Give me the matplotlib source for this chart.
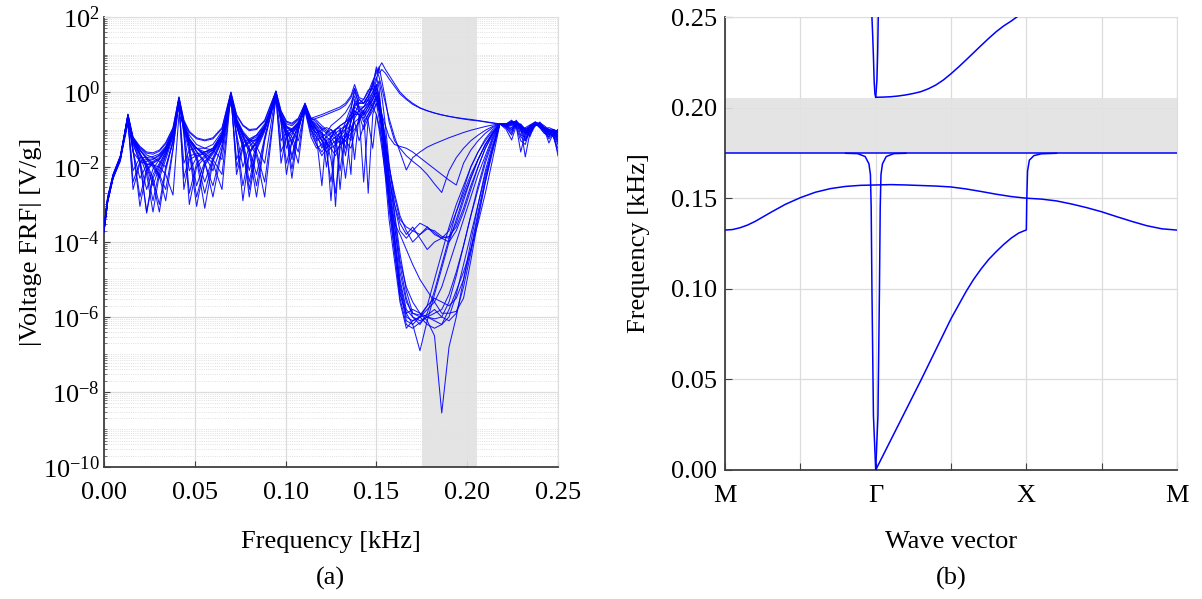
import matplotlib
matplotlib.use("Agg")
import matplotlib.pyplot as plt
import numpy as np
from matplotlib.ticker import FixedLocator, LogLocator, NullFormatter, FormatStrFormatter

plt.rcParams['font.family'] = ['Liberation Serif', 'DejaVu Serif']
plt.rcParams['mathtext.fontset'] = 'custom'
plt.rcParams['mathtext.rm'] = 'Liberation Serif'
plt.rcParams['mathtext.it'] = 'Liberation Serif:italic'
plt.rcParams['axes.unicode_minus'] = True

# ---------------- (a) voltage FRF data: log10 |FRF| ----------------
freq_khz = [
    0.0, 0.002, 0.005, 0.009, 0.0132,
    0.016, 0.0198, 0.0235, 0.027, 0.0305, 0.034, 0.038, 0.0413,
    0.044, 0.047, 0.051, 0.0555, 0.060, 0.065, 0.0699,
    0.073, 0.0765, 0.080, 0.084, 0.0885, 0.0947,
    0.0975, 0.1005, 0.1035, 0.107, 0.1107,
    0.114, 0.117, 0.120, 0.1225, 0.125, 0.1275, 0.130, 0.133, 0.136, 0.138, 0.1405,
    0.143, 0.1455, 0.148, 0.150, 0.1515, 0.153, 0.155, 0.157, 0.160, 0.163,
    0.1665, 0.170, 0.174, 0.178, 0.182, 0.186, 0.190, 0.194, 0.198, 0.202, 0.206, 0.210, 0.214, 0.218,
    0.2215, 0.2245, 0.227, 0.2295, 0.232, 0.2345, 0.2375, 0.240, 0.2425, 0.245, 0.2475, 0.250]

frf_exp_01 = [
    -3.7, -2.9, -2.27, -1.75, -0.59,
    -1.2, -1.45, -1.6, -1.62, -1.55, -1.35, -0.95, -0.13,
    -0.75, -1.05, -1.22, -1.28, -1.22, -0.95, 0.0,
    -0.6, -0.88, -1.0, -0.98, -0.75, 0.03,
    -0.5, -0.78, -0.83, -0.7, -0.3,
    -0.7, -0.65, -0.6, -0.55, -0.5, -0.45, -0.4, -0.3, -0.1, 0.2, -0.15,
    -0.2, 0.0, 0.3, 0.5, 0.65, 0.78, 0.6, 0.45, 0.22, 0.0,
    -0.17, -0.3, -0.42, -0.5, -0.56, -0.61, -0.65, -0.68, -0.71, -0.73, -0.76, -0.79, -0.82, -0.85,
    -0.9, -0.85, -0.8, -0.9, -1.0, -0.95, -0.85, -0.9, -1.0, -1.05, -1.0, -1.1]
frf_exp_02 = [
    -3.65, -2.85, -2.25, -1.8, -0.62,
    -1.5, -3.05, -2.1, -1.9, -1.8, -1.55, -1.1, -0.18,
    -1.0, -1.6, -3.05, -1.9, -1.6, -1.2, -0.05,
    -0.9, -1.4, -2.6, -1.5, -1.0, 0.0,
    -0.75, -1.2, -2.05, -1.0, -0.35,
    -0.9, -1.2, -2.5, -1.1, -0.9, -0.8, -0.7, -0.55, -0.3, 0.0, -0.3,
    -0.3, -0.1, 0.2, 0.6, 0.4, 0.1, -0.3, -0.7, -1.2, -1.6,
    -2.08, -1.75, -1.6, -1.47, -1.38, -1.3, -1.22, -1.15, -1.08, -1.02, -0.97, -0.92, -0.88, -0.85,
    -0.85, -0.75, -0.9, -1.6, -1.1, -0.9, -0.8, -0.95, -1.1, -1.0, -1.05, -1.3]
frf_exp_03 = [
    -3.7, -2.95, -2.3, -1.85, -0.7,
    -1.35, -1.9, -3.2, -2.2, -1.9, -1.6, -1.1, -0.25,
    -0.95, -1.4, -1.8, -3.1, -1.85, -1.3, -0.1,
    -0.8, -1.2, -1.6, -2.8, -1.3, -0.05,
    -0.8, -1.9, -1.3, -0.9, -0.3,
    -0.8, -0.9, -1.1, -1.4, -1.3, -3.05, -1.2, -0.8, -0.4, -0.1, -0.45,
    -0.5, -0.3, 0.0, 0.3, 0.67, 0.3, -0.2, -0.8, -1.3, -1.5,
    -1.7, -1.85, -2.0, -2.2, -2.45, -2.68, -2.1, -1.75, -1.5, -1.3, -1.15, -1.02, -0.92, -0.85,
    -0.95, -1.1, -0.75, -0.95, -1.73, -1.1, -0.85, -0.95, -1.0, -1.1, -1.2, -1.5]
frf_exp_04 = [
    -3.6, -2.8, -2.2, -1.7, -0.6,
    -1.3, -1.7, -2.2, -3.2, -2.2, -1.7, -1.15, -0.15,
    -1.1, -2.7, -1.9, -1.7, -1.55, -1.15, -0.02,
    -2.2, -1.5, -1.35, -1.25, -0.95, -0.1,
    -0.7, -1.0, -1.2, -1.6, -0.4,
    -0.75, -1.0, -1.3, -1.6, -2.4, -1.4, -1.0, -0.9, -2.2, -0.2, -0.5,
    -0.4, -0.2, 0.27, 0.0, -0.3, -0.6, -0.9, -1.2, -1.4, -1.45,
    -1.5, -1.6, -1.75, -1.9, -2.05, -2.2, -2.35, -2.48, -1.9, -1.55, -1.3, -1.1, -0.95, -0.85,
    -1.0, -1.28, -0.9, -0.85, -1.0, -1.2, -0.82, -0.85, -1.0, -1.36, -1.1, -1.0]
frf_exp_05 = [
    -3.65, -2.9, -2.25, -1.78, -0.75,
    -2.6, -1.9, -1.85, -1.8, -1.7, -1.5, -1.05, -0.3,
    -0.9, -1.3, -1.6, -1.9, -2.5, -1.5, -0.2,
    -0.75, -1.1, -1.3, -1.6, -2.4, -0.15,
    -0.6, -0.95, -1.0, -0.85, -0.45,
    -1.0, -1.3, -1.2, -1.1, -1.0, -1.2, -2.1, -1.0, -0.6, -0.3, -0.4,
    -0.6, -0.4, -0.2, 0.1, -0.2, -0.6, -1.2, -2.0, -2.8, -3.4,
    -3.6, -3.7, -3.8, -3.65, -3.7, -3.85, -3.9, -3.5, -2.9, -2.3, -1.8, -1.4, -1.1, -0.85,
    -0.9, -0.8, -0.95, -1.3, -1.4, -1.0, -0.9, -0.85, -0.95, -1.0, -1.1, -1.7]
frf_exp_06 = [
    -3.7, -2.9, -2.28, -1.76, -0.65,
    -1.3, -1.65, -1.9, -2.3, -3.0, -2.0, -1.3, -0.2,
    -0.85, -1.25, -1.5, -1.65, -1.8, -2.2, -0.05,
    -1.2, -2.5, -1.6, -1.35, -1.0, 0.02,
    -0.7, -1.1, -1.8, -1.0, -0.33,
    -0.85, -1.1, -1.5, -1.3, -1.2, -1.1, -1.0, -1.5, -0.8, -0.5, -0.6,
    -0.5, -2.7, -0.6, -0.3, -0.5, -0.9, -1.6, -2.3, -3.0, -3.5,
    -3.8, -3.6, -3.9, -4.2, -4.0, -3.9, -3.85, -3.6, -3.1, -2.5, -2.0, -1.5, -1.15, -0.85,
    -0.85, -0.78, -0.85, -1.0, -1.1, -1.0, -0.8, -0.88, -1.05, -1.2, -1.0, -1.05]
frf_exp_07 = [
    -3.6, -2.85, -2.22, -1.72, -0.8,
    -1.25, -1.55, -1.75, -1.9, -2.2, -2.6, -1.5, -0.35,
    -2.3, -1.7, -1.65, -1.6, -1.5, -1.1, -0.25,
    -0.85, -1.3, -2.1, -1.4, -0.95, -0.2,
    -1.6, -1.2, -1.1, -0.9, -0.5,
    -1.2, -1.5, -1.4, -1.3, -1.8, -2.7, -1.5, -1.2, -1.0, -0.7, -0.5,
    -0.4, -0.2, 0.0, 0.2, -0.1, -0.6, -1.5, -2.5, -3.8, -5.0,
    -5.8, -6.0, -6.1, -6.0, -5.9, -5.8, -5.4, -4.8, -4.1, -3.3, -2.6, -1.9, -1.3, -0.85,
    -0.9, -0.95, -0.8, -0.9, -1.05, -0.95, -0.9, -0.8, -0.95, -1.05, -1.15, -1.4]
frf_exp_08 = [
    -3.7, -2.92, -2.3, -1.8, -0.68,
    -1.6, -1.85, -1.92, -1.95, -2.0, -2.2, -2.75, -0.6,
    -0.9, -1.3, -1.5, -1.6, -1.55, -1.2, -0.15,
    -0.8, -1.1, -1.3, -1.3, -1.0, -0.1,
    -0.65, -0.95, -1.05, -0.9, -0.38,
    -0.7, -0.8, -1.0, -2.0, -1.2, -1.0, -0.9, -0.8, -0.6, -0.4, -0.2,
    -0.3, -0.1, 0.1, 0.4, 0.1, -0.8, -1.8, -2.8, -4.0, -5.3,
    -6.1, -6.2, -6.0, -5.8, -5.6, -5.2, -4.6, -4.0, -3.4, -2.8, -2.2, -1.7, -1.2, -0.85,
    -0.88, -0.82, -0.78, -1.15, -1.2, -0.9, -0.85, -0.9, -1.0, -0.95, -1.0, -1.2]
frf_exp_09 = [
    -3.65, -2.88, -2.26, -1.77, -0.72,
    -1.4, -1.85, -2.6, -2.05, -1.8, -1.55, -1.1, -0.28,
    -0.95, -1.35, -1.7, -2.4, -1.75, -1.25, -0.12,
    -1.1, -2.0, -1.45, -1.25, -0.95, -0.08,
    -0.75, -1.5, -1.15, -0.85, -0.42,
    -0.95, -1.1, -1.3, -1.5, -1.4, -1.3, -1.2, -2.3, -1.1, -0.8, -0.7,
    -0.6, -0.5, -0.3, -0.1, -0.4, -1.0, -2.0, -3.0, -4.2, -5.5,
    -6.2, -6.3, -6.15, -6.0, -6.1, -6.2, -6.0, -5.4, -4.6, -3.8, -3.0, -2.2, -1.5, -0.85,
    -0.92, -1.0, -0.85, -0.95, -1.25, -1.0, -0.82, -0.95, -1.1, -1.2, -1.0, -1.1]
frf_exp_10 = [
    -3.7, -2.9, -2.27, -1.75, -0.63,
    -1.6, -2.3, -1.95, -1.85, -1.75, -1.5, -1.05, -0.2,
    -0.95, -1.45, -2.5, -1.85, -1.6, -1.2, -0.08,
    -0.75, -1.15, -1.5, -2.2, -1.2, -0.03,
    -0.65, -1.0, -1.4, -0.95, -0.36,
    -0.8, -1.0, -1.1, -1.2, -1.3, -1.2, -1.1, -1.0, -0.9, -1.8, -0.6,
    -0.7, -0.5, -0.2, 0.0, -0.3, -0.7, -1.4, -2.2, -3.3, -4.5,
    -5.2, -5.6, -5.9, -6.1, -6.5, -8.56, -6.8, -6.0, -5.0, -4.0, -3.0, -2.1, -1.4, -0.85,
    -0.87, -0.8, -0.9, -1.05, -0.95, -0.88, -0.8, -0.85, -0.95, -1.0, -1.05, -1.25]
frf_exp_11 = [
    -3.62, -2.82, -2.2, -1.72, -0.78,
    -1.3, -1.65, -2.0, -2.5, -2.0, -1.65, -1.15, -0.32,
    -0.85, -1.25, -1.5, -1.7, -2.1, -1.4, -0.18,
    -1.8, -1.35, -1.25, -1.15, -0.9, -0.12,
    -0.6, -0.9, -1.05, -1.3, -0.48,
    -1.1, -1.4, -1.7, -1.5, -1.3, -1.6, -1.4, -1.3, -1.1, -1.0, -0.8,
    -0.5, -0.8, -1.5, -0.6, -0.9, -1.3, -2.0, -2.9, -4.0, -5.1,
    -5.9, -6.2, -6.9, -6.1, -5.4, -4.7, -4.0, -3.4, -2.8, -2.3, -1.8, -1.4, -1.1, -0.85,
    -0.9, -0.85, -0.8, -0.95, -1.1, -0.98, -0.85, -0.88, -0.98, -1.1, -1.15, -1.0]
frf_exp_12 = [
    -3.68, -2.9, -2.27, -1.76, -0.66,
    -1.25, -1.55, -1.8, -2.0, -2.3, -1.8, -1.2, -0.22,
    -1.0, -2.1, -1.75, -1.6, -1.5, -1.1, -0.06,
    -0.7, -1.05, -1.25, -1.45, -1.9, -0.02,
    -1.3, -1.05, -1.0, -0.85, -0.34,
    -0.9, -1.0, -1.2, -1.3, -2.9, -1.3, -1.1, -0.9, -0.7, -0.6, -0.5,
    -0.8, -0.6, -0.4, -0.2, -0.5, -1.1, -1.9, -2.6, -3.6, -4.6,
    -5.5, -6.0, -6.2, -5.9, -5.3, -4.6, -3.9, -3.2, -2.6, -2.0, -1.6, -1.25, -1.0, -0.85,
    -0.95, -1.15, -0.85, -0.9, -1.0, -1.15, -0.9, -0.82, -0.9, -1.0, -1.1, -1.35]
frf_exp_13 = [
    -3.75, -2.95, -2.3, -1.8, -0.85,
    -2.1, -1.75, -1.75, -1.72, -1.65, -1.45, -1.0, -0.4,
    -1.9, -1.55, -1.5, -1.5, -1.4, -1.05, -0.3,
    -0.8, -1.2, -1.6, -1.3, -0.9, -0.25,
    -0.55, -0.85, -0.9, -0.75, -0.55,
    -0.7, -0.75, -0.9, -1.0, -1.1, -1.0, -0.95, -1.7, -0.7, -0.3, -0.3,
    -0.3, -0.2, -0.4, -0.6, -1.0, -1.5, -2.2, -2.9, -3.5, -3.8,
    -4.2, -4.6, -5.0, -5.3, -5.6, -5.9, -5.9, -5.85, -5.5, -4.5, -3.4, -2.4, -1.5, -0.85,
    -0.88, -0.82, -0.8, -0.92, -1.0, -0.92, -0.84, -0.86, -0.95, -1.02, -1.05, -1.15]
frf_exp_14 = [
    -3.66, -2.87, -2.24, -1.74, -0.7,
    -1.22, -1.5, -1.68, -1.75, -1.85, -2.0, -1.35, -0.26,
    -0.8, -1.15, -1.4, -1.5, -1.55, -1.8, -0.11,
    -0.9, -1.5, -1.3, -1.15, -0.85, -0.07,
    -0.65, -1.2, -1.0, -0.8, -0.4,
    -1.0, -1.2, -1.4, -1.6, -1.5, -1.4, -1.3, -1.1, -1.3, -0.6, -0.6,
    -1.0, -0.7, -0.5, -0.3, -0.7, -1.3, -2.3, -3.4, -4.5, -5.6,
    -6.3, -6.1, -6.0, -6.2, -6.3, -6.2, -5.8, -5.3, -4.8, -4.2, -3.5, -2.7, -1.8, -0.85,
    -0.9, -0.9, -0.82, -1.0, -1.3, -1.05, -0.86, -0.9, -1.0, -1.25, -1.1, -1.05]
frf_exp_15 = [
    -3.7, -2.9, -2.26, -1.76, -0.6,
    -1.22, -1.48, -1.63, -1.66, -1.58, -1.38, -0.98, -0.15,
    -0.78, -1.08, -1.25, -1.3, -1.25, -0.98, -0.02,
    -0.63, -0.9, -1.03, -1.0, -0.78, 0.01,
    -0.52, -0.8, -0.86, -0.72, -0.32,
    -0.75, -0.7, -0.65, -0.6, -0.55, -0.5, -0.45, -0.35, -0.15, 0.1, -0.2,
    -0.3, -0.1, 0.15, 0.67, 0.5, 0.6, 0.5, 0.35, 0.15, -0.05,
    -0.2, -0.33, -0.43, -0.5, -0.56, -0.61, -0.65, -0.69, -0.72, -0.75, -0.77, -0.8, -0.83, -0.86,
    -0.88, -0.8, -0.78, -0.88, -0.98, -0.92, -0.83, -0.88, -0.98, -1.02, -1.0, -1.08]
frf_exp_16 = [
    -3.68, -2.88, -2.25, -1.75, -0.62,
    -1.3, -1.8, -3.23, -2.3, -1.95, -1.6, -1.1, -0.16,
    -0.9, -1.5, -2.8, -1.95, -1.65, -1.25, -0.04,
    -0.75, -1.15, -1.5, -2.5, -1.25, 0.0,
    -0.7, -1.1, -1.7, -1.0, -0.33,
    -0.85, -1.0, -1.3, -1.2, -1.1, -1.0, -2.6, -1.0, -0.7, -0.4, -0.5,
    -0.6, -0.4, -0.1, 0.2, -0.2, -0.9, -2.0, -3.1, -4.3, -5.4,
    -5.9, -5.8, -5.9, -6.0, -6.05, -6.0, -5.6, -4.9, -4.1, -3.3, -2.5, -1.8, -1.25, -0.85,
    -0.9, -0.88, -0.8, -1.0, -1.15, -0.95, -0.84, -0.92, -1.05, -1.15, -1.05, -1.2]
frf_exp_17 = [
    -3.72, -2.92, -2.28, -1.78, -0.66,
    -1.28, -1.62, -2.05, -2.9, -2.1, -1.7, -1.15, -0.2,
    -0.92, -1.35, -1.75, -2.7, -1.8, -1.28, -0.08,
    -2.0, -1.45, -1.3, -1.2, -0.92, -0.06,
    -1.9, -1.15, -1.05, -0.88, -0.38,
    -0.75, -0.9, -1.0, -1.1, -1.2, -1.4, -1.2, -1.0, -0.5, 0.1, -0.4,
    -0.4, -0.3, -0.1, 0.1, 0.3, -0.1, -0.9, -1.9, -3.0, -3.7,
    -3.9, -3.7, -3.5, -3.6, -3.8, -3.9, -4.0, -3.7, -3.2, -2.6, -2.0, -1.5, -1.1, -0.85,
    -0.88, -0.85, -0.82, -0.9, -1.0, -1.05, -0.88, -0.86, -0.94, -1.05, -1.1, -1.3]
frf_exp_18 = [
    -3.64, -2.86, -2.23, -1.73, -0.68,
    -1.3, -1.65, -1.95, -2.4, -3.2, -2.1, -1.3, -0.22,
    -1.1, -3.0, -2.0, -1.75, -1.6, -1.2, -0.06,
    -0.9, -1.45, -2.8, -1.55, -1.05, -0.04,
    -0.7, -1.05, -1.3, -1.9, -0.42,
    -0.9, -1.1, -1.0, -0.95, -1.0, -1.1, -1.2, -1.3, -1.5, -1.1, -0.7,
    -0.5, -0.35, -0.2, 0.0, -0.3, -0.8, -1.7, -2.7, -3.9, -5.2,
    -6.0, -6.1, -6.0, -5.7, -5.0, -4.3, -3.6, -3.0, -2.5, -2.0, -1.6, -1.3, -1.05, -0.85,
    -0.85, -0.8, -0.9, -1.2, -1.3, -0.98, -0.83, -0.9, -1.02, -1.1, -1.0, -1.15]
frf_exp_19 = [
    -3.7, -2.9, -2.27, -1.77, -0.73,
    -2.4, -1.85, -1.8, -1.78, -1.68, -1.48, -1.05, -0.3,
    -0.88, -1.28, -1.58, -1.85, -2.8, -1.55, -0.15,
    -0.75, -1.1, -1.35, -1.7, -2.8, -0.12,
    -0.8, -2.2, -1.3, -0.9, -0.45,
    -1.0, -1.4, -1.6, -1.4, -1.2, -1.0, -0.9, -0.8, -0.7, -0.6, -0.3,
    -0.2, 0.05, 0.1, -0.2, -0.5, -0.9, -1.5, -2.4, -3.5, -4.8,
    -5.6, -5.9, -5.95, -5.7, -5.5, -5.6, -5.7, -5.5, -5.0, -4.2, -3.2, -2.3, -1.5, -0.85,
    -0.9, -1.0, -0.8, -0.88, -1.1, -1.0, -0.85, -0.88, -0.97, -1.1, -1.2, -1.6]
frf_exp_20 = [
    -3.66, -2.88, -2.26, -1.76, -0.64,
    -1.25, -1.55, -1.75, -1.95, -2.25, -2.9, -1.55, -0.17,
    -0.85, -1.25, -1.5, -1.7, -1.9, -2.6, -0.03,
    -1.2, -2.9, -1.65, -1.35, -1.0, 0.01,
    -0.72, -1.15, -2.3, -1.05, -0.34,
    -0.8, -0.95, -1.15, -1.35, -1.5, -1.7, -1.4, -1.2, -0.8, -0.5, -0.6,
    -2.4, -0.7, -0.4, -0.1, -0.3, -0.7, -1.3, -2.0, -2.7, -3.3,
    -3.7, -4.0, -3.8, -3.6, -3.75, -3.9, -3.7, -3.2, -2.7, -2.2, -1.8, -1.4, -1.1, -0.85,
    -0.92, -1.05, -0.85, -0.9, -1.05, -1.1, -0.86, -0.9, -1.0, -1.15, -1.05, -1.05]
frf_exp_21 = [
    -3.7, -2.9, -2.27, -1.77, -0.69,
    -1.55, -2.8, -2.05, -1.88, -1.78, -1.52, -1.08, -0.24,
    -2.6, -1.8, -1.7, -1.65, -1.55, -1.15, -0.13,
    -0.85, -1.35, -2.4, -1.45, -0.98, -0.09,
    -0.62, -0.92, -0.98, -0.82, -0.4,
    -0.75, -0.85, -0.95, -1.05, -1.15, -1.25, -1.35, -1.2, -1.0, -0.8, -1.3,
    -0.9, -0.6, -0.35, -0.15, -0.4, -0.8, -1.4, -2.2, -3.2, -4.3,
    -5.3, -5.9, -6.0, -5.95, -5.8, -6.0, -6.1, -5.9, -5.2, -4.3, -3.3, -2.4, -1.6, -0.85,
    -0.86, -0.84, -0.82, -0.93, -1.05, -0.96, -0.84, -0.87, -0.96, -1.05, -1.1, -1.2]

frf_curves = [frf_exp_01, frf_exp_02, frf_exp_03, frf_exp_04, frf_exp_05,
              frf_exp_06, frf_exp_07, frf_exp_08, frf_exp_09, frf_exp_10,
              frf_exp_11, frf_exp_12, frf_exp_13, frf_exp_14, frf_exp_15,
              frf_exp_16, frf_exp_17, frf_exp_18, frf_exp_19, frf_exp_20,
              frf_exp_21]

band_gap_khz = [0.175, 0.2055]

# ---------------- (b) dispersion curves (k-path: M=0, Gamma=1, X=2, M=3) ----------------
k_labels = ['M', 'Γ', 'X', 'M']

k_low = [0.0, 0.05, 0.1, 0.15, 0.2, 0.3, 0.4, 0.5, 0.6, 0.7, 0.8, 0.9, 1.0,
         1.1, 1.2, 1.3, 1.4, 1.5, 1.6, 1.7, 1.8, 1.9, 2.0,
         2.1, 2.2, 2.3, 2.4, 2.5, 2.6, 2.7, 2.75, 2.8, 2.9, 3.0]
f_low = [0.1324, 0.1327, 0.1337, 0.1352, 0.1372, 0.142, 0.1466, 0.1503, 0.1533, 0.1553, 0.1565, 0.1571, 0.1573,
         0.1575, 0.1573, 0.157, 0.1567, 0.1562, 0.1551, 0.1537, 0.1522, 0.1509, 0.1500,
         0.1495, 0.1485, 0.1468, 0.1448, 0.1425, 0.1398, 0.1372, 0.136, 0.1348, 0.1331, 0.1324]

k_flat = [0.0, 3.0]
f_flat = [0.1748, 0.1748]

k_acoustic = [0.80, 0.88, 0.93, 0.955, 0.965, 0.97, 0.975, 0.985, 1.0,
              1.1, 1.2, 1.3, 1.4, 1.5, 1.6, 1.65, 1.7, 1.75, 1.8, 1.85, 1.9, 1.95, 2.0,
              2.003, 2.008, 2.02, 2.05, 2.1, 2.2]
f_acoustic = [0.1748, 0.1746, 0.173, 0.169, 0.163, 0.145, 0.10, 0.03, 0.0,
              0.0165, 0.033, 0.0495, 0.0665, 0.0835, 0.0985, 0.1052, 0.111, 0.1162, 0.1205, 0.1245,
              0.128, 0.1308, 0.1325,
              0.150, 0.165, 0.171, 0.1735, 0.1745, 0.1748]

k_arm = [1.0, 1.015, 1.025, 1.03, 1.035, 1.045, 1.07, 1.12, 1.2]
f_arm = [0.0, 0.03, 0.10, 0.145, 0.163, 0.169, 0.173, 0.1746, 0.1748]

k_upper = [0.975, 0.98, 0.985, 0.99, 0.995, 1.0, 1.05, 1.1, 1.15, 1.2, 1.25, 1.3, 1.35, 1.4,
           1.45, 1.5, 1.55, 1.6, 1.65, 1.7, 1.75, 1.8, 1.85, 1.9, 1.94]
f_upper = [0.25, 0.24, 0.228, 0.214, 0.2075, 0.2057, 0.2058, 0.206, 0.2064, 0.207, 0.2078, 0.2088,
           0.2104, 0.2125, 0.2153, 0.2187, 0.2224, 0.2263, 0.2303, 0.2343, 0.2382, 0.2419, 0.2451,
           0.2478, 0.2502]

k_upper_arm = [1.0, 1.008, 1.013, 1.017]
f_upper_arm = [0.2057, 0.215, 0.23, 0.25]

BLUE = '#0000ff'
GRID = '#dcdcdc'
DARK = '#404040'
FS = 19

fig = plt.figure(figsize=(12.02, 5.99), dpi=100)
ax1 = fig.add_axes([0.0865, 0.2204, 0.3777, 0.7512])
ax2 = fig.add_axes([0.6032, 0.2154, 0.3760, 0.7562])

# ---- panel (a)
f_arr = np.array(freq_khz)
for vals in frf_curves:
    ax1.plot(f_arr, 10.0 ** np.array(vals), color=BLUE, lw=0.75, alpha=0.9, zorder=3)
ax1.set_yscale('log')
ax1.set_xlim(0, 0.25)
ax1.set_ylim(1e-10, 1e2)
ax1.axvspan(band_gap_khz[0], band_gap_khz[1], color='#e2e2e2', alpha=0.9, zorder=1, lw=0)
ax1.set_axisbelow(True)
ax1.xaxis.set_major_locator(FixedLocator([0, 0.05, 0.10, 0.15, 0.20, 0.25]))
ax1.xaxis.set_major_formatter(FormatStrFormatter('%.2f'))
ymaj = [1e-10, 1e-8, 1e-6, 1e-4, 1e-2, 1e0, 1e2]
ax1.yaxis.set_major_locator(FixedLocator(ymaj))
ax1.set_yticklabels([r'$\mathregular{10^{%d}}$' % int(np.log10(v)) for v in ymaj])
ax1.yaxis.set_minor_locator(LogLocator(base=10, subs=np.arange(1, 10), numticks=100))
ax1.yaxis.set_minor_formatter(NullFormatter())
ax1.grid(True, which='major', color=GRID, lw=0.9, ls='-')
ax1.grid(True, which='minor', axis='y', color='#d6d6d6', lw=0.6, ls=':')
ax1.tick_params(which='both', direction='in', colors=DARK, labelcolor='black', labelsize=FS)
ax1.tick_params(which='major', length=4, width=0.8)
ax1.tick_params(which='minor', length=2, width=0.5)
ax1.tick_params(axis='x', pad=11)
ax1.tick_params(axis='y', pad=3)
ax1.set_xlabel('Frequency [kHz]', fontsize=FS)
ax1.set_ylabel('|Voltage FRF| [V/g]', fontsize=FS)
ax1.xaxis.set_label_coords(0.5, -0.142)
ax1.yaxis.set_label_coords(-0.137, 0.5)

# ---- panel (b)
ax2.axhspan(band_gap_khz[0], band_gap_khz[1], color='#e2e2e2', alpha=0.9, zorder=1, lw=0)
ax2.plot(k_low, f_low, color=BLUE, lw=1.1, zorder=3)
ax2.plot(k_flat, f_flat, color=BLUE, lw=1.1, zorder=3)
ax2.plot(k_acoustic, f_acoustic, color=BLUE, lw=1.1, zorder=3)
ax2.plot(k_arm, f_arm, color=BLUE, lw=1.1, zorder=3)
ax2.plot(k_upper, f_upper, color=BLUE, lw=1.1, zorder=3)
ax2.plot(k_upper_arm, f_upper_arm, color=BLUE, lw=1.1, zorder=3)
ax2.set_xlim(0, 3)
ax2.set_ylim(0, 0.25)
ax2.set_axisbelow(True)
ax2.xaxis.set_major_locator(FixedLocator([0, 1, 2, 3]))
ax2.set_xticklabels(k_labels)
ax2.xaxis.set_minor_locator(FixedLocator([0.5, 1.5, 2.5]))
ax2.yaxis.set_major_locator(FixedLocator([0, 0.05, 0.10, 0.15, 0.20, 0.25]))
ax2.yaxis.set_major_formatter(FormatStrFormatter('%.2f'))
ax2.grid(True, which='both', color=GRID, lw=0.9, ls='-')
ax2.tick_params(which='both', direction='in', colors=DARK, labelcolor='black', labelsize=FS)
ax2.tick_params(which='both', length=5, width=0.8)
ax2.tick_params(axis='x', pad=11)
ax2.tick_params(axis='y', pad=6)
ax2.set_xlabel('Wave vector', fontsize=FS)
ax2.set_ylabel('Frequency [kHz]', fontsize=FS)
ax2.xaxis.set_label_coords(0.5, -0.135)
ax2.yaxis.set_label_coords(-0.165, 0.5)

for ax in (ax1, ax2):
    ax.spines['left'].set_color(DARK)
    ax.spines['bottom'].set_color(DARK)
    ax.spines['left'].set_linewidth(1.3)
    ax.spines['bottom'].set_linewidth(1.3)
    ax.spines['top'].set_color('#dddddd')
    ax.spines['right'].set_color('#dddddd')

fig.text(0.275, 0.035, '(a)', ha='center', va='center', fontsize=FS)
fig.text(0.791, 0.035, '(b)', ha='center', va='center', fontsize=FS)

fig.savefig('out.png', dpi=100)
